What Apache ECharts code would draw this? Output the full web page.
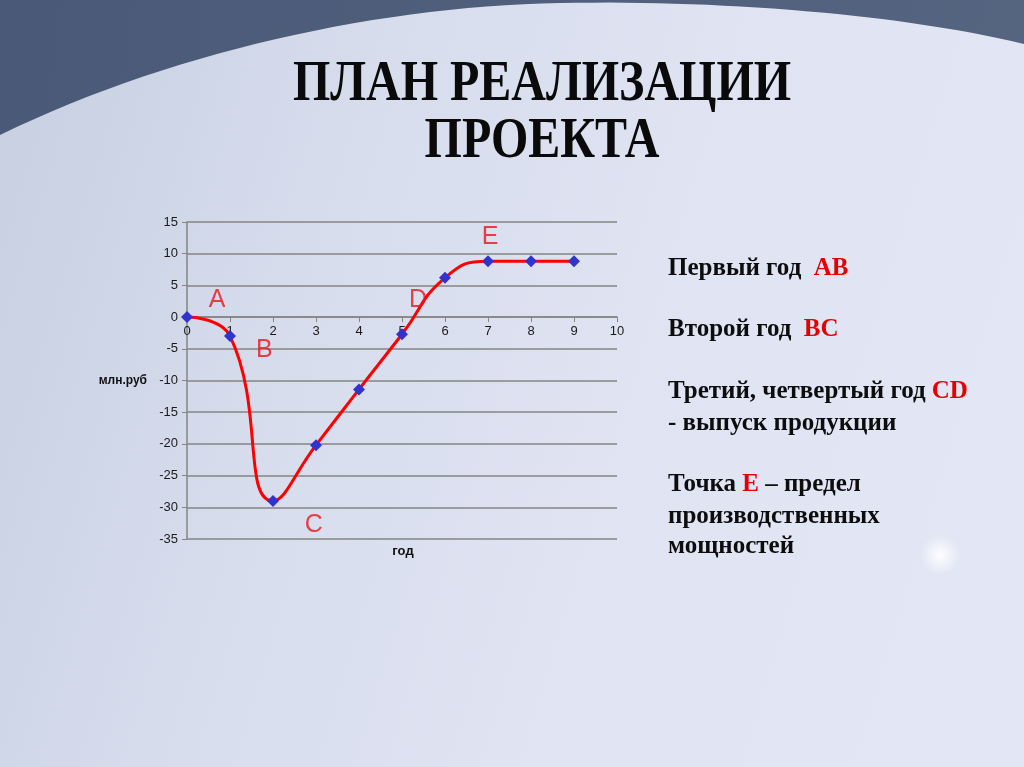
<!DOCTYPE html>
<html>
<head>
<meta charset="utf-8">
<title>План реализации проекта</title>
<script src="https://cdn.jsdelivr.net/npm/echarts@6/dist/echarts.min.js"></script>
<style>
  html, body { margin: 0; padding: 0; }
  #main { width: 1024px; height: 767px; }
</style>
</head>
<body>
<div id="main"></div>
<script>
// данные графика
const years = [0, 1, 2, 3, 4, 5, 6, 7, 8, 9];
const values = [0, -3, -29, -20.2, -11.4, -2.7, 6.2, 8.8, 8.8, 8.8];
const xTicks = [0, 1, 2, 3, 4, 5, 6, 7, 8, 9, 10];
const yTicks = [-35, -30, -25, -20, -15, -10, -5, 0, 5, 10, 15];

// буквы-метки этапов (в координатах графика)
const stageNames = ['A', 'B', 'C', 'D', 'E'];
const stageX = [0.7, 1.8, 2.95, 5.37, 7.05];
const stageY = [2.7, -5.2, -32.8, 2.7, 12.6];

// текст справа: [чёрная часть, красная часть, чёрная часть]
const notes = [
  ['Первый год  ', 'AB'],
  ['Второй год  ', 'BC'],
  ['Третий, четвертый год ', 'CD'],
  ['- выпуск продукции', ''],
  ['Точка ', 'E', ' – предел'],
  ['производственных', ''],
  ['мощностей', '']
];
const noteBaselines = [277, 338, 400, 432, 493, 525, 555];

const serif = '"Liberation Serif", "Times New Roman", serif';
const sans = '"Liberation Sans", Arial, sans-serif';

// сетка графика
const gridTop = 222, gridBottom = 228, chartH = 767;
const plotH = chartH - gridTop - gridBottom;
const yMin = yTicks[0], yMax = yTicks[yTicks.length - 1];
// ось X проходит через ноль, подписи под ней
const xAxisOffset = -plotH * (0 - yMin) / (yMax - yMin);

// тёмная дуга сверху слайда (кривые Безье -> точки многоугольника)
function bezierPts(p0, p1, p2, p3, n) {
  const pts = [];
  for (let i = 0; i <= n; i++) {
    const t = i / n, u = 1 - t;
    pts.push([
      u * u * u * p0[0] + 3 * u * u * t * p1[0] + 3 * u * t * t * p2[0] + t * t * t * p3[0],
      u * u * u * p0[1] + 3 * u * u * t * p1[1] + 3 * u * t * t * p2[1] + t * t * t * p3[1]
    ]);
  }
  return pts;
}
const arcPts = [[0, 0], [1024, 0]]
  .concat(bezierPts([1024, 44], [900, 14], [720, 0], [560, 3], 30))
  .concat(bezierPts([560, 3], [380, 6], [170, 52], [0, 135], 30));

const myChart = echarts.init(document.getElementById('main'));

const noteElements = notes.map((n, i) => ({
  type: 'text',
  x: 668,
  y: noteBaselines[i] - 8,
  z: 10,
  silent: true,
  style: {
    text: '{k|' + n[0] + '}' + (n[1] ? '{r|' + n[1] + '}' : '') + (n[2] ? '{k|' + n[2] + '}' : ''),
    verticalAlign: 'middle',
    rich: {
      k: { fontFamily: serif, fontWeight: 'bold', fontSize: 25, fill: '#0d0d0d' },
      r: { fontFamily: serif, fontWeight: 'bold', fontSize: 25, fill: '#e60000' }
    }
  }
}));

const option = {
  animation: false,
  graphic: [
    {
      type: 'rect',
      z: -20,
      silent: true,
      shape: { x: 0, y: 0, width: 1024, height: 767 },
      style: {
        fill: new echarts.graphic.LinearGradient(0, 0.3, 1, 0.7, [
          { offset: 0, color: '#c9d1e2' },
          { offset: 0.3, color: '#d7dded' },
          { offset: 0.6, color: '#dfe3f2' },
          { offset: 1, color: '#e3e7f5' }
        ])
      }
    },
    {
      type: 'polygon',
      z: -19,
      silent: true,
      shape: { points: arcPts },
      style: {
        fill: new echarts.graphic.LinearGradient(0, 0, 1, 1, [
          { offset: 0, color: '#4a5977' },
          { offset: 1, color: '#55647f' }
        ])
      }
    },
    {
      type: 'circle',
      z: -18,
      silent: true,
      shape: { cx: 940, cy: 555, r: 20 },
      style: {
        fill: new echarts.graphic.RadialGradient(0.5, 0.5, 0.5, [
          { offset: 0, color: 'rgba(255,255,255,0.95)' },
          { offset: 1, color: 'rgba(255,255,255,0)' }
        ])
      }
    },
    {
      type: 'text',
      x: 542,
      y: 85,
      z: 10,
      silent: true,
      scaleY: 1.18,
      style: {
        text: 'ПЛАН РЕАЛИЗАЦИИ',
        fontFamily: serif, fontWeight: 'bold', fontSize: 48,
        fill: '#0a0a0a', align: 'center', verticalAlign: 'middle'
      }
    },
    {
      type: 'text',
      x: 542,
      y: 142,
      z: 10,
      silent: true,
      scaleY: 1.18,
      style: {
        text: 'ПРОЕКТА',
        fontFamily: serif, fontWeight: 'bold', fontSize: 48,
        fill: '#0a0a0a', align: 'center', verticalAlign: 'middle'
      }
    },
    {
      type: 'text',
      x: 403,
      y: 551,
      z: 10,
      silent: true,
      style: {
        text: 'год',
        fontFamily: sans, fontWeight: 'bold', fontSize: 13,
        fill: '#111', align: 'center', verticalAlign: 'middle'
      }
    },
    ...noteElements
  ],
  grid: { left: 187, right: 407, top: gridTop, bottom: gridBottom },
  xAxis: {
    type: 'value',
    min: xTicks[0],
    max: xTicks[xTicks.length - 1],
    interval: xTicks[1] - xTicks[0],
    position: 'bottom',
    offset: xAxisOffset,
    axisLine: { show: true, onZero: false, lineStyle: { color: '#858585', width: 1.5 } },
    axisTick: { show: true, length: 5, lineStyle: { color: '#858585' } },
    splitLine: { show: false },
    axisLabel: { color: '#1a1a1a', fontSize: 13, fontFamily: sans, margin: 8 }
  },
  yAxis: {
    type: 'value',
    min: yMin,
    max: yMax,
    interval: yTicks[1] - yTicks[0],
    name: 'млн.руб',
    nameLocation: 'middle',
    nameRotate: 0,
    nameGap: 40,
    nameTextStyle: { color: '#111', fontSize: 12, fontWeight: 'bold', fontFamily: sans },
    axisLine: { show: true, onZero: false, lineStyle: { color: '#858585', width: 1.5 } },
    axisTick: { show: true, length: 5, lineStyle: { color: '#858585' } },
    splitLine: { show: true, lineStyle: { color: '#858585', width: 1.5 } },
    axisLabel: { color: '#1a1a1a', fontSize: 13, fontFamily: sans, margin: 9 }
  },
  series: [
    {
      type: 'line',
      data: years.map((x, i) => [x, values[i]]),
      smooth: true,
      symbol: 'diamond',
      symbolSize: 12,
      lineStyle: { color: '#ff0000', width: 3 },
      itemStyle: { color: '#3034cc' },
      z: 3
    },
    {
      type: 'scatter',
      silent: true,
      symbolSize: 0,
      data: stageNames.map((n, i) => ({ name: n, value: [stageX[i], stageY[i]] })),
      label: {
        show: true,
        position: 'inside',
        formatter: '{b}',
        color: '#e8141b',
        fontSize: 25,
        fontFamily: sans
      },
      z: 4
    }
  ]
};

myChart.setOption(option);
</script>
</body>
</html>
